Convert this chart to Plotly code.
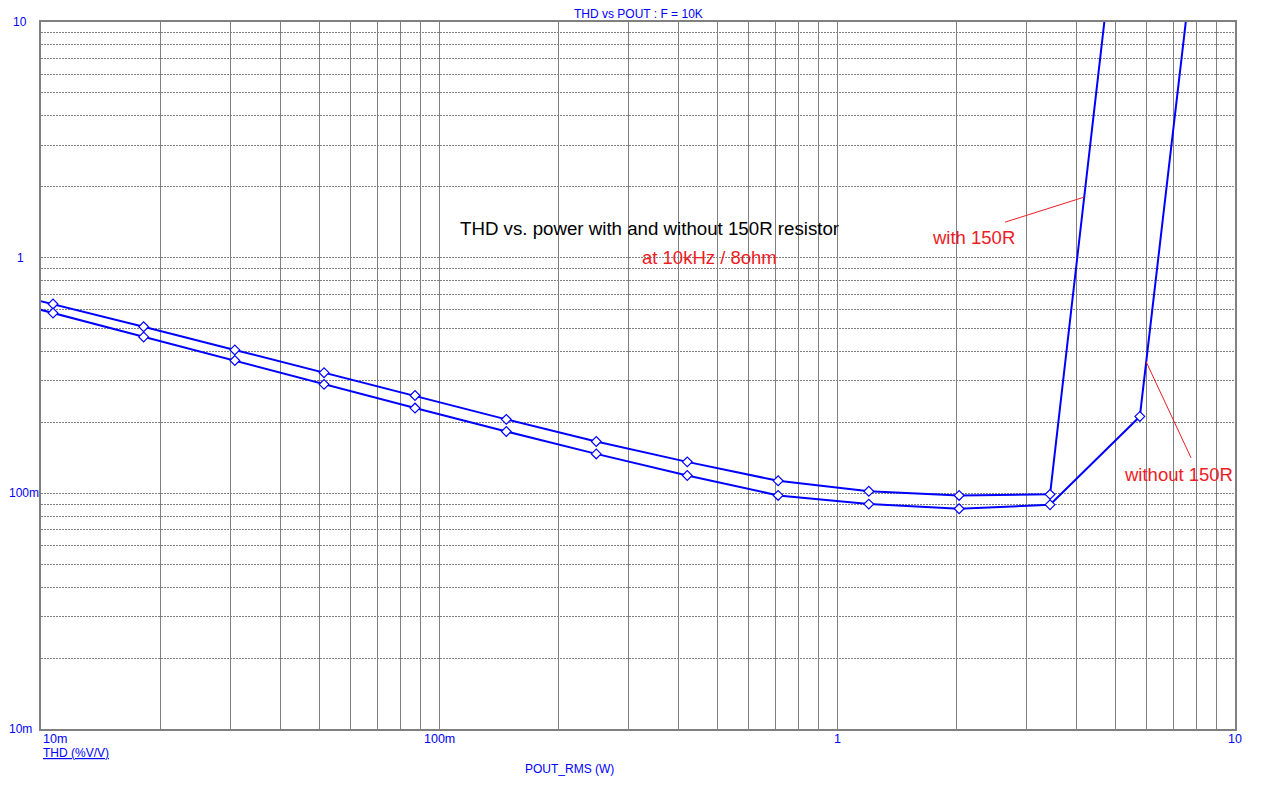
import math
import plotly.graph_objects as go

# ---- data (POUT_RMS in W, THD in %) ----
pout_with = [0.00634, 0.01072, 0.01811, 0.03069, 0.05143, 0.08704, 0.1476,
             0.2484, 0.4205, 0.7114, 1.202, 2.027, 3.430, 5.767]
thd_with = [0.79, 0.636, 0.509, 0.406, 0.325, 0.260, 0.206,
            0.166, 0.136, 0.113, 0.102, 0.098, 0.099, 205.0]

pout_without = [0.00634, 0.01072, 0.01811, 0.03069, 0.05143, 0.08704, 0.1476,
                0.2484, 0.4205, 0.7114, 1.202, 2.027, 3.430, 5.767, 9.746]
thd_without = [0.735, 0.582, 0.461, 0.366, 0.290, 0.230, 0.183,
               0.147, 0.119, 0.098, 0.090, 0.086, 0.0895, 0.212, 429.0]

x_tick_vals = [0.01, 0.1, 1, 10]
x_tick_text = ["10m", "100m", "1", "10"]
y_tick_vals = [0.01, 0.1, 1, 10]
y_tick_text = ["10m", "100m", "1", "10"]

decades = [0.01, 0.1, 1]
grid_vals = [d * k for d in decades for k in range(1, 10)] + [10]

BLUE = "#0000FF"
RED = "#EE1C25"
GRID = "#808080"
FONT = "Liberation Sans, Arial, sans-serif"

fig = go.Figure()

marker = dict(symbol="diamond", size=7.5, color="white", line=dict(color=BLUE, width=1.2))
fig.add_trace(go.Scatter(x=pout_with, y=thd_with, mode="lines+markers",
                         line=dict(color=BLUE, width=2), marker=marker,
                         name="with 150R", showlegend=False))
fig.add_trace(go.Scatter(x=pout_without, y=thd_without, mode="lines+markers",
                         line=dict(color=BLUE, width=2), marker=marker,
                         name="without 150R", showlegend=False))

annotations = []
# y tick labels (the widest one is kept inside the page's left edge)
for v, t in zip(y_tick_vals, y_tick_text):
    if len(t) >= 4:
        pos = dict(x=0, xref="paper", xshift=-34, xanchor="left")
    else:
        pos = dict(x=0, xref="paper", xshift=-21, xanchor="center")
    annotations.append(dict(**pos, y=math.log10(v), yref="y",
                            text=t, showarrow=False, yanchor="middle",
                            font=dict(family=FONT, size=12, color=BLUE)))
# x tick labels
for v, t in zip(x_tick_vals, x_tick_text):
    annotations.append(dict(x=math.log10(v), xref="x", y=0, yref="paper", yshift=-1,
                            text=t, showarrow=False,
                            xanchor="left" if v == x_tick_vals[0] else "center",
                            yanchor="top",
                            font=dict(family=FONT, size=12.5, color=BLUE)))

annotations += [
    dict(x=0, xref="paper", y=0, yref="paper", yshift=-15, text="<u>THD (%V/V)</u>",
         showarrow=False, xanchor="left", yanchor="top",
         font=dict(family=FONT, size=12, color=BLUE)),
    dict(x=0.443, xref="paper", y=0, yref="paper", yshift=-31, text="POUT_RMS (W)",
         showarrow=False, xanchor="center", yanchor="top",
         font=dict(family=FONT, size=12, color=BLUE)),
    dict(x=0.5, xref="paper", y=1, yref="paper", yshift=8.5, text="THD vs POUT : F = 10K",
         showarrow=False, xanchor="center", yanchor="middle", borderpad=0,
         font=dict(family=FONT, size=12, color=BLUE)),
    dict(x=0.510, xref="paper", y=0.7085, yref="paper",
         text="THD vs. power with and without 150R resistor",
         showarrow=False, xanchor="center", yanchor="middle",
         font=dict(family=FONT, size=18.7, color="black")),
    dict(x=0.5599, xref="paper", y=0.6676, yref="paper", text="at 10kHz / 8ohm",
         showarrow=False, xanchor="center", yanchor="middle",
         font=dict(family=FONT, size=18.5, color=RED)),
    dict(x=0.781, xref="paper", y=0.6958, yref="paper", text="with 150R",
         showarrow=False, xanchor="center", yanchor="middle",
         font=dict(family=FONT, size=18.5, color=RED)),
    dict(x=0.9527, xref="paper", y=0.3606, yref="paper", text="without 150R",
         showarrow=False, xanchor="center", yanchor="middle",
         font=dict(family=FONT, size=18.5, color=RED)),
]

shapes = [
    dict(type="line", xref="paper", yref="paper", x0=0.8074, y0=0.7169, x1=0.8733, y1=0.7521,
         line=dict(color=RED, width=1)),
    dict(type="line", xref="paper", yref="paper", x0=0.9255, y0=0.5197, x1=0.9632, y1=0.3835,
         line=dict(color=RED, width=1)),
]

# page body adds an 8px offset, so the figure is sized/margined to compensate
fig.update_layout(
    width=1259, height=780,
    margin=dict(l=33, r=32, t=12, b=59, pad=0),
    paper_bgcolor="white", plot_bgcolor="white",
    font=dict(family=FONT, color=BLUE),
    annotations=annotations, shapes=shapes,
    showlegend=False,
    xaxis=dict(type="log", range=[-2, 1], tickvals=grid_vals, showticklabels=False,
               ticks="", showgrid=True, gridcolor=GRID, gridwidth=1,
               showline=True, linecolor=GRID, linewidth=2, mirror=True, zeroline=False),
    yaxis=dict(type="log", range=[-2, 1], tickvals=grid_vals, showticklabels=False,
               ticks="", showgrid=True, gridcolor=GRID, gridwidth=1, griddash="2px,1px",
               showline=True, linecolor=GRID, linewidth=2, mirror=True, zeroline=False),
)

fig.write_html("out.html")
